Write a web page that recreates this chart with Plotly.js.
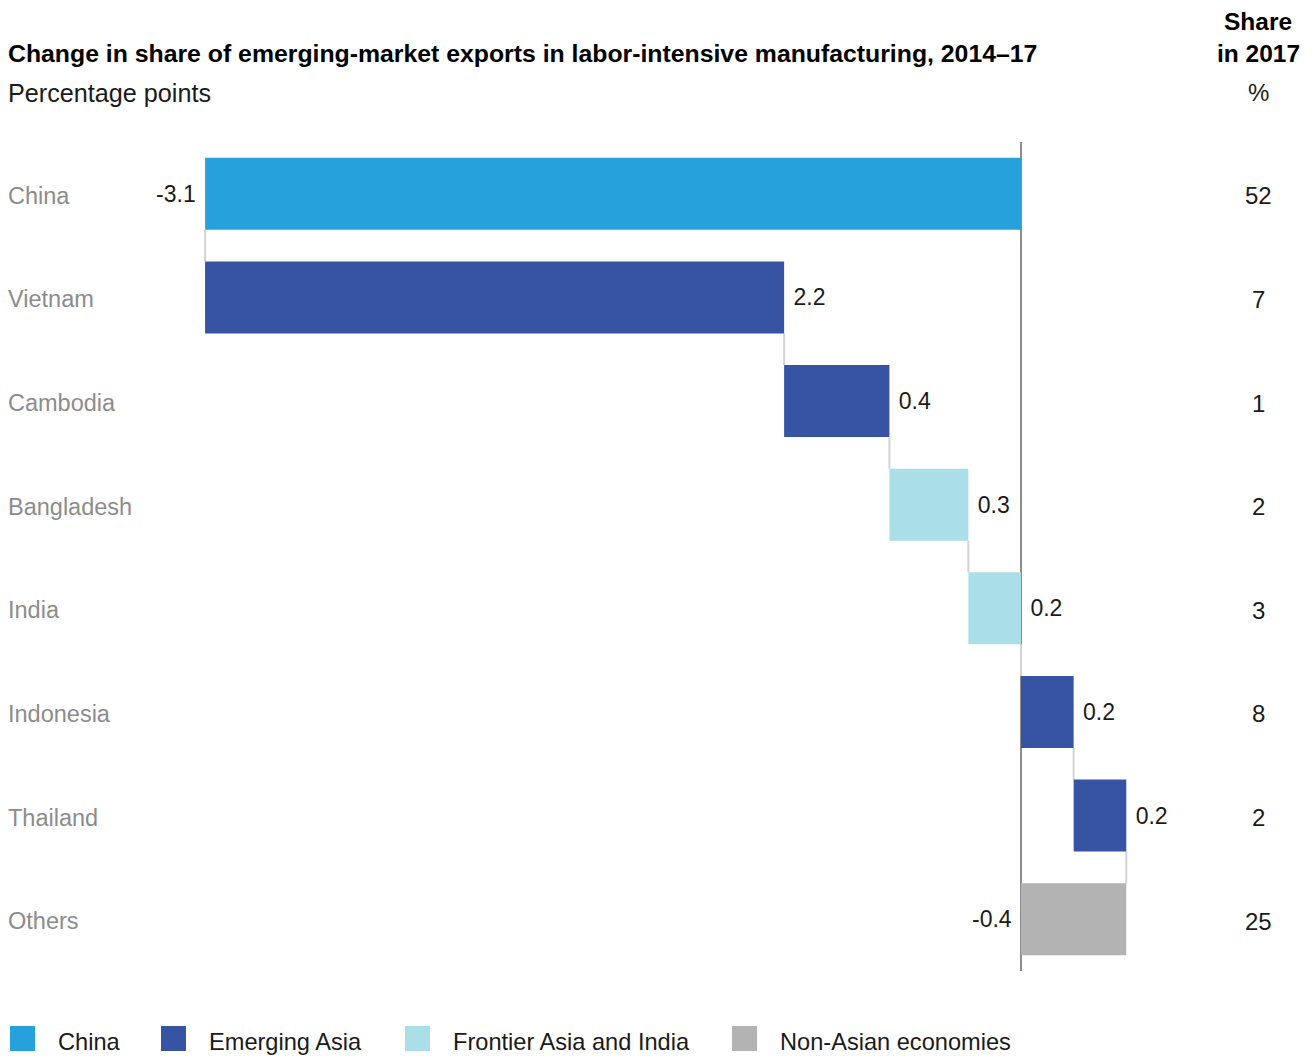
<!DOCTYPE html>
<html>
<head>
<meta charset="utf-8">
<script src="https://cdn.plot.ly/plotly-3.0.1.min.js"></script>
<style>
  html, body { margin: 0; padding: 0; background: #fff; }
  #chart { width: 1314px; height: 1056px; }
</style>
</head>
<body>
<div id="chart"></div>
<script>
// ---- Data ----
const categories = ['China', 'Vietnam', 'Cambodia', 'Bangladesh', 'India', 'Indonesia', 'Thailand', 'Others'];
const changes = [-3.1, 2.2, 0.4, 0.3, 0.2, 0.2, 0.2, -0.4];
const groupOf = ['China', 'Emerging Asia', 'Emerging Asia', 'Frontier Asia and India', 'Frontier Asia and India', 'Emerging Asia', 'Emerging Asia', 'Non-Asian economies'];
const share2017 = [52, 7, 1, 2, 3, 8, 2, 25];
const groupNames = ['China', 'Emerging Asia', 'Frontier Asia and India', 'Non-Asian economies'];
const groupColors = ['#26a1db', '#3653a4', '#abdfe8', '#b3b3b3'];

const titleText = 'Change in share of emerging-market exports in labor-intensive manufacturing, 2014–17';
const subtitleText = 'Percentage points';

// ---- Layout constants (pixels) ----
const W = 1314, H = 1056;
const M = { l: 0, r: 0, t: 142, b: 85 };
const zeroPx = 1021, pxPerUnit = 263.2;
const plotH = H - M.t - M.b;
const py = Y => (H - M.b - Y) / plotH;   // pixel Y -> paper y
const px = X => X / W;                   // pixel X -> paper x

const FONT = 'Liberation Sans, Arial, sans-serif';
const NB = '\u00a0';

// cumulative bases
const bases = [];
let run = 0;
changes.forEach(v => { bases.push(run); run += v; });

const traces = [];
// connector lines via waterfall trace (transparent bars)
traces.push({
  type: 'waterfall',
  orientation: 'h',
  y: categories,
  x: changes,
  measure: changes.map(() => 'relative'),
  increasing: { marker: { color: 'rgba(0,0,0,0)', line: { width: 0 } } },
  decreasing: { marker: { color: 'rgba(0,0,0,0)', line: { width: 0 } } },
  connector: { mode: 'between', line: { color: '#d3d3d3', width: 2 } },
  textinfo: 'none',
  hoverinfo: 'skip',
  showlegend: false
});

groupNames.forEach((g, gi) => {
  const idx = categories.map((c, i) => i).filter(i => groupOf[i] === g);
  traces.push({
    type: 'bar',
    orientation: 'h',
    name: g,
    y: idx.map(i => categories[i]),
    x: idx.map(i => changes[i]),
    base: idx.map(i => bases[i]),
    text: idx.map(i => changes[i] < 0 ? changes[i].toFixed(1) + NB : NB + changes[i].toFixed(1)),
    textposition: 'outside',
    constraintext: 'none',
    cliponaxis: false,
    textfont: { family: FONT, size: 23, color: '#1a1a1a' },
    marker: { color: groupColors[gi], line: { width: 0 } },
    showlegend: false,
    hoverinfo: 'y+x'
  });
});

const annotations = [];
categories.forEach((c, i) => {
  annotations.push({
    xref: 'paper', yref: 'y', x: px(6), y: c, xanchor: 'left', yanchor: 'middle', yshift: -2,
    text: c, showarrow: false, font: { family: FONT, size: 23.5, color: '#8c8c8c' }
  });
  annotations.push({
    xref: 'paper', yref: 'y', x: px(1258.5), y: c, xanchor: 'center', yanchor: 'middle', yshift: -2,
    text: String(share2017[i]), showarrow: false, font: { family: FONT, size: 24, color: '#1a1a1a' }
  });
});
annotations.push({
  xref: 'paper', yref: 'paper', x: px(6), y: py(93), xanchor: 'left', yanchor: 'middle',
  text: subtitleText, showarrow: false, font: { family: FONT, size: 25.2, color: '#1a1a1a' }
});
annotations.push({
  xref: 'paper', yref: 'paper', x: px(1258), y: py(21), xanchor: 'center', yanchor: 'middle',
  text: '<b>Share</b>', showarrow: false, font: { family: FONT, size: 24.5, color: '#000' }
});
annotations.push({
  xref: 'paper', yref: 'paper', x: px(1258), y: py(53), xanchor: 'center', yanchor: 'middle',
  text: '<b>in 2017</b>', showarrow: false, font: { family: FONT, size: 24.5, color: '#000' }
});
annotations.push({
  xref: 'paper', yref: 'paper', x: px(1258), y: py(93), xanchor: 'center', yanchor: 'middle',
  text: '%', showarrow: false, font: { family: FONT, size: 24, color: '#1a1a1a' }
});

// manual legend
const legendX = [10, 161, 405, 732];
const shapes = [];
groupNames.forEach((g, gi) => {
  shapes.push({
    type: 'rect', xref: 'paper', yref: 'paper',
    x0: px(legendX[gi]), x1: px(legendX[gi] + 25), y0: py(1051), y1: py(1026),
    fillcolor: groupColors[gi], line: { width: 0 }
  });
  annotations.push({
    xref: 'paper', yref: 'paper', x: px(legendX[gi] + 46), y: py(1041.5), xanchor: 'left', yanchor: 'middle',
    text: g, showarrow: false, font: { family: FONT, size: 23.6, color: '#1a1a1a' }
  });
});

const layout = {
  width: W, height: H,
  margin: M,
  paper_bgcolor: '#fff', plot_bgcolor: '#fff',
  showlegend: false,
  barmode: 'overlay',
  bargap: 0.305,
  waterfallgap: 0.305,
  title: {
    text: '<b>' + titleText + '</b>',
    x: px(8), xanchor: 'left', xref: 'container',
    y: 1 - 53 / H, yanchor: 'middle', yref: 'container',
    font: { family: FONT, size: 24.8, color: '#000' }
  },
  xaxis: {
    range: [-zeroPx / pxPerUnit, (W - zeroPx) / pxPerUnit],
    showgrid: false, showticklabels: false, ticks: '',
    zeroline: true, zerolinecolor: '#8c8c8c', zerolinewidth: 2,
    fixedrange: true
  },
  yaxis: {
    type: 'category',
    categoryorder: 'array', categoryarray: categories,
    autorange: 'reversed',
    showgrid: false, showticklabels: false, ticks: '', zeroline: false,
    fixedrange: true
  },
  annotations: annotations,
  shapes: shapes,
  font: { family: FONT }
};

Plotly.newPlot('chart', traces, layout, { displayModeBar: false, staticPlot: true });
</script>
</body>
</html>
